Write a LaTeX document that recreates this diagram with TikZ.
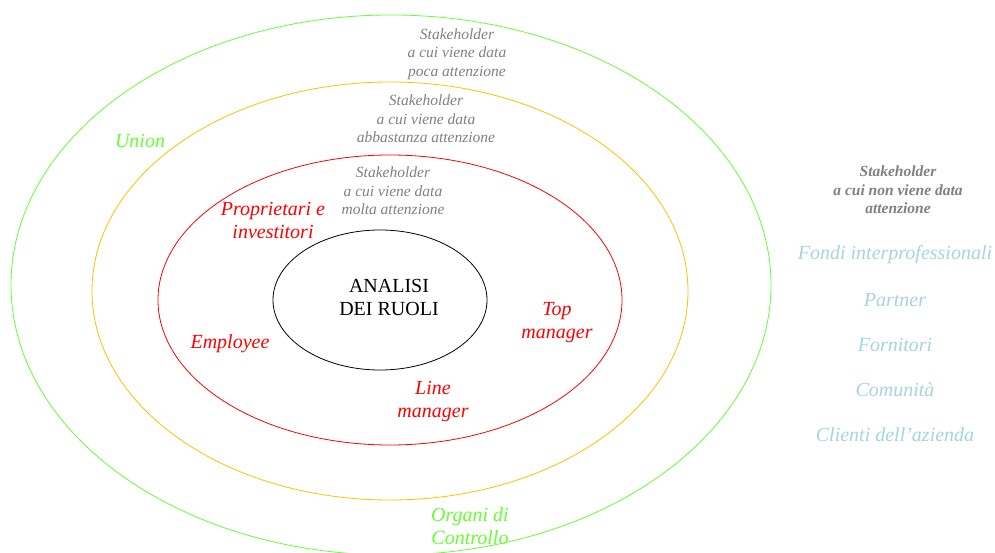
\documentclass[tikz,border=0pt]{standalone}
\usepackage{fontspec}
\setmainfont{Liberation Serif}
\definecolor{ringgreen}{RGB}{102,255,51}
\definecolor{ringyellow}{RGB}{255,192,0}
\definecolor{ringred}{RGB}{255,0,0}
\definecolor{notegray}{RGB}{128,128,128}
\definecolor{outerblue}{RGB}{166,212,220}

\begin{document}
\begin{tikzpicture}[x=1pt, y=-1pt,
    ring/.style={line width=0.8pt},
    note/.style={align=center, text=notegray, inner sep=0pt,
                 font={\fontsize{15.5}{18.5}\selectfont\itshape}},
    role/.style={align=center, inner sep=0pt,
                 font={\fontsize{20}{23}\selectfont\itshape}},
    outer/.style={text=outerblue, inner sep=0pt,
                  font={\fontsize{20}{23}\selectfont\itshape}}]
  \useasboundingbox (0,0) rectangle (995,553);

  \draw[ring, ringgreen]  (391,285) ellipse [x radius=380pt, y radius=270pt];
  \draw[ring, ringyellow] (390,291) ellipse [x radius=298pt, y radius=209pt];
  \draw[ring, ringred]    (390,300) ellipse [x radius=232pt, y radius=145pt];
  \draw[ring, black]      (380,300) ellipse [x radius=107pt, y radius=70pt];

  \node[align=center, inner sep=0pt, font={\fontsize{20}{23}\selectfont}]
    (core) at (389,297) {ANALISI\\DEI RUOLI};

  \node[note] (poca)  at (457,54)  {Stakeholder\\a cui viene data\\poca attenzione};
  \node[note] (abba)  at (426,119) {Stakeholder\\a cui viene data\\abbastanza attenzione};
  \node[note] (molta) at (393,191) {Stakeholder\\a cui viene data\\molta attenzione};

  \node[role, text=ringgreen] (union)   at (140,141) {Union};
  \node[role, text=ringgreen] (organi)  at (470,526) {Organi di\\Controllo};
  \node[role, text=ringred]   (propr)   at (273,220) {Proprietari e\\investitori};
  \node[role, text=ringred]   (employee) at (230,344) {Employee};
  \node[role, text=ringred]   (topman)  at (557,323) {Top\\manager};
  \node[role, text=ringred]   (lineman) at (433,402) {Line\\manager};

  \node[note, font={\fontsize{15.5}{18.5}\selectfont\bfseries\itshape}]
    (none) at (898,190) {Stakeholder\\a cui non viene data\\attenzione};

  \foreach \name/\label [count=\i from 0] in
      {fondi/Fondi interprofessionali, partner/Partner, fornitori/Fornitori,
       comunita/Comunità, clienti/Clienti dell'azienda}
    \node[outer] (\name) at (895,255+45*\i) {\label};
\end{tikzpicture}
\end{document}
